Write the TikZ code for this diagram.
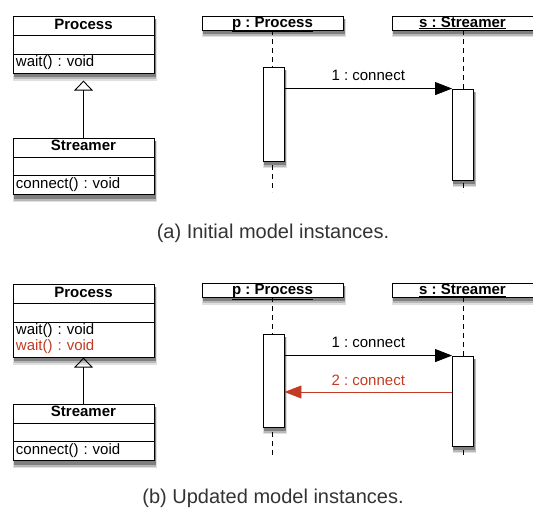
\documentclass[tikz,border=0pt]{standalone}
\usepackage{fontspec}
\setmainfont{Liberation Sans}
\usepackage{tikz}
\usetikzlibrary{positioning,shapes.multipart,arrows.meta,backgrounds}
\frenchspacing
% soft shadow under a named node
\newcommand{\boxshade}[1]{%
    \fill[black!12] ([xshift=0.5pt,yshift=-7pt]#1.south west) rectangle ([xshift=2.5pt,yshift=-3pt]#1.north east);
    \fill[black!28] ([xshift=1pt,yshift=-5.5pt]#1.south west) rectangle ([xshift=2pt,yshift=-3pt]#1.north east);
    \fill[black!50] ([xshift=1pt,yshift=-3.5pt]#1.south west) rectangle ([xshift=1.5pt,yshift=-3pt]#1.north east);}

\begin{document}
\begin{tikzpicture}[x=1pt, y=-1pt,
        font=\fontsize{15}{16}\selectfont,
        umlclass/.style={rectangle split, rectangle split parts=3, draw, fill=white, line width=0.9pt, text width=135pt, inner xsep=3pt, inner ysep=1pt, align=left},
        lifehead/.style={draw, fill=white, line width=0.9pt, minimum width=141pt, minimum height=14pt, inner sep=0pt, text height=10.5pt, text depth=2.5pt, font=\fontsize{15}{16}\selectfont\bfseries},
        activation/.style={draw, fill=white, line width=0.9pt, minimum width=21pt, inner sep=0pt},
        lifeline/.style={line width=0.8pt, dash pattern=on 5pt off 4pt},
        msg/.style={line width=0.8pt, -{Triangle[length=17pt, width=13pt]}},
        inherit/.style={line width=0.9pt, -{Triangle[open, length=10pt, width=19pt]}},
        caption/.style={text=capgray, font=\fontsize{20}{23}\selectfont}]
            % colours taken from the figure
            \definecolor{umlred}{HTML}{C23B22}
            \definecolor{capgray}{HTML}{333333}
            \useasboundingbox (0,0) rectangle (533,507);

            % (a) initial model
            \node[umlclass, anchor=north] (process) at (83.5,16) {\strut\makebox[135pt][c]{\bfseries Process}
                \nodepart{two}\strut
                \nodepart{three}\strut wait() : void};
            \node[umlclass, below=64pt of process] (streamer) {\strut\makebox[135pt][c]{\bfseries Streamer}
                \nodepart{two}\strut
                \nodepart{three}\strut connect() : void};
            \draw[inherit, shorten >=7pt] (streamer.north) -- (process.south);

            \coordinate (pend) at (272.5,192);
            \coordinate (send) at (463,192);
            \draw[lifeline] (272.5,30) -- (pend);
            \draw[lifeline] (463,30) -- (send);
            \node[lifehead] (p) at (272.5,23) {\underline{p : Process}};
            \node[lifehead] (s) at (462.5,23) {\underline{s : Streamer}};
            \node[activation, minimum height=94pt] (pact) at (273.5,114) {};
            \node[activation, minimum height=91pt] (sact) at (463,134.5) {};
            \draw[msg] (pact.east |- sact.north) -- (sact.north west) node[midway, above=4pt] {1 : connect};

            \node[caption] (capa) at (273,233) {(a) Initial model instances.};

            % (b) updated model
            \node[umlclass, anchor=north] (process2) at (83.5,284) {\strut\makebox[135pt][c]{\bfseries Process}
                \nodepart{two}\strut
                \nodepart{three}\strut wait() : void\\\strut\textcolor{umlred}{wait() : void}};
            \node[umlclass, below=46pt of process2] (streamer2) {\strut\makebox[135pt][c]{\bfseries Streamer}
                \nodepart{two}\strut
                \nodepart{three}\strut connect() : void};
            \draw[inherit] (streamer2.north) -- (process2.south);

            \coordinate (pend2) at (272.5,458);
            \coordinate (send2) at (463,458);
            \draw[lifeline] (272.5,297) -- (pend2);
            \draw[lifeline] (463,297) -- (send2);
            \node[lifehead] (p2) at (272.5,290.5) {\underline{p : Process}};
            \node[lifehead] (s2) at (462.5,290.5) {\underline{s : Streamer}};
            \node[activation, minimum height=93pt] (pact2) at (273.5,380.5) {};
            \node[activation, minimum height=90pt] (sact2) at (463,401) {};
            \draw[msg] (pact2.east |- sact2.north) -- (sact2.north west) node[midway, above=4pt] {1 : connect};
            \draw[msg, umlred] ([yshift=9pt]sact2.west) -- ([yshift=9pt]sact2.west -| pact2.east) node[midway, above=3pt] {2 : connect};

            \node[caption] (capb) at (273,498) {(b) Updated model instances.};

            % shadows behind the boxes
            \begin{scope}[on background layer]
                \boxshade{process} \boxshade{streamer}
                \boxshade{p} \boxshade{s} \boxshade{pact} \boxshade{sact}
                \boxshade{process2} \boxshade{streamer2}
                \boxshade{p2} \boxshade{s2} \boxshade{pact2} \boxshade{sact2}
            \end{scope}
        \end{tikzpicture}
\end{document}
